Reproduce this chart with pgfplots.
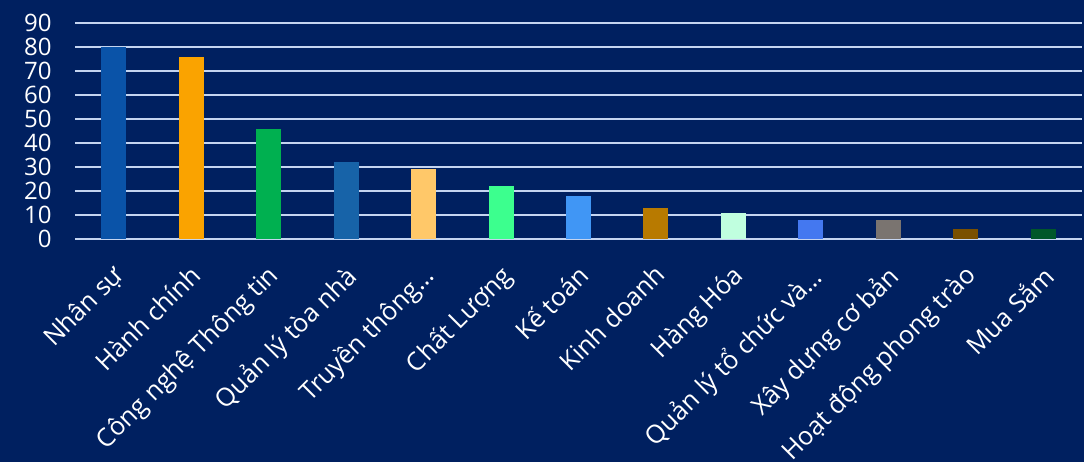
\documentclass[border=0pt]{standalone}
\usepackage{fontspec}
\setmainfont{Open Sans}
\usepackage{pgfplots}
\pgfplotsset{compat=1.18}
\definecolor{bg}{HTML}{002060}
\definecolor{gridc}{HTML}{C4D4F0}
\definecolor{c1}{HTML}{0A53A8}
\definecolor{c2}{HTML}{FAA300}
\definecolor{c3}{HTML}{00B050}
\definecolor{c4}{HTML}{1763A8}
\definecolor{c5}{HTML}{FFC869}
\definecolor{c6}{HTML}{3CFF8E}
\definecolor{c7}{HTML}{4096F5}
\definecolor{c8}{HTML}{B87A00}
\definecolor{c9}{HTML}{C0FFDF}
\definecolor{c10}{HTML}{4478F0}
\definecolor{c11}{HTML}{7A7470}
\definecolor{c12}{HTML}{7A5000}
\definecolor{c13}{HTML}{00572A}
\begin{document}
\begin{tikzpicture}
\fill[bg] (0,0) rectangle (813pt,346.5pt);
\useasboundingbox (0,0) rectangle (813pt,346.5pt);
\begin{axis}[
  at={(56.25pt,167.25pt)}, anchor=south west,
  scale only axis, width=755.25pt, height=162pt,
  xmin=-0.5, xmax=12.5, ymin=0, ymax=90,
  ytick={0,10,...,90}, xtick={0,...,12},
  xticklabels={Nhân sự, Hành chính, Công nghệ Thông tin, Quản lý tòa nhà, Truyền thông…, Chất Lượng, Kế toán, Kinh doanh, Hàng Hóa, Quản lý tổ chức và…, Xây dựng cơ bản, Hoạt động phong trào, Mua Sắm},
  axis line style={draw=none},
  major tick length=0pt,
  ymajorgrids,
  grid style={color=gridc, line width=1.5pt},
  ybar, bar width=18.75pt, /pgf/bar shift=0pt,
  tick label style={white},
  yticklabel style={font=\fontsize{18}{20}\selectfont},
  /pgf/number format/assume math mode=true,
  xticklabel style={font=\fontsize{19}{20}\selectfont, xshift=-2pt, yshift=-18pt, rotate=45, anchor=north east, inner sep=0pt},
  yticklabel style={anchor=east, xshift=-14pt},
  clip=false,
]
\addplot[fill=c1, draw=none] coordinates {(0,80)};
\addplot[fill=c2, draw=none] coordinates {(1,76)};
\addplot[fill=c3, draw=none] coordinates {(2,46)};
\addplot[fill=c4, draw=none] coordinates {(3,32)};
\addplot[fill=c5, draw=none] coordinates {(4,29)};
\addplot[fill=c6, draw=none] coordinates {(5,22)};
\addplot[fill=c7, draw=none] coordinates {(6,18)};
\addplot[fill=c8, draw=none] coordinates {(7,13)};
\addplot[fill=c9, draw=none] coordinates {(8,11)};
\addplot[fill=c10, draw=none] coordinates {(9,8)};
\addplot[fill=c11, draw=none] coordinates {(10,8)};
\addplot[fill=c12, draw=none] coordinates {(11,4)};
\addplot[fill=c13, draw=none] coordinates {(12,4)};
\end{axis}
\end{tikzpicture}
\end{document}
